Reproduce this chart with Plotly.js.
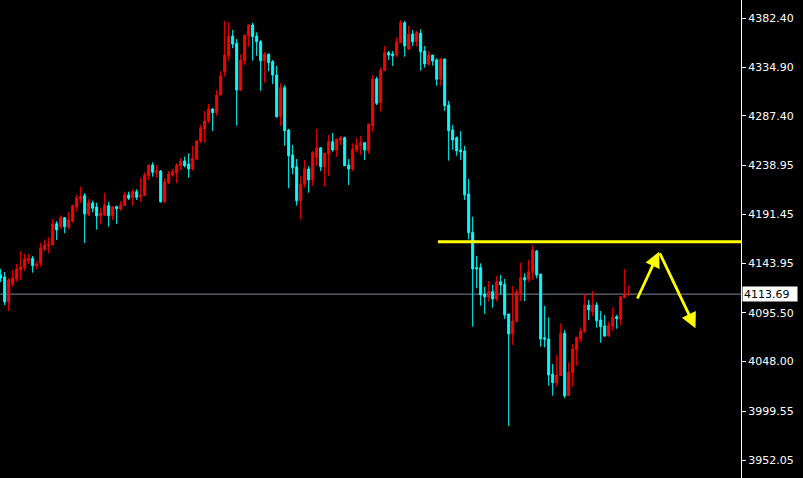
<!DOCTYPE html>
<html>
<head>
<meta charset="utf-8">
<script src="https://cdn.plot.ly/plotly-3.0.1.min.js"></script>
<style>html,body{margin:0;padding:0;background:#000;}#chart{width:803px;height:478px;}</style>
</head>
<body>
<div id="chart"></div>
<script>
// Candle values (bar index = position in arrays)
const openP = [4132.4,4130.4,4106.1,4124.1,4128.5,4137.2,4139.5,4146.3,4148.6,4141.4,
4143.7,4157.4,4160.6,4161.6,4182.3,4179.4,4188.2,4179.1,4185.0,4198.9,
4206.4,4209.6,4191.5,4202.5,4198.6,4190.1,4190.8,4199.9,4190.1,4198.9,
4196.6,4199.9,4210.3,4207.6,4213.5,4208.3,4209.6,4229.1,4239.5,4232.4,
4233.6,4203.7,4222.2,4229.8,4232.0,4238.5,4243.4,4240.5,4235.6,4245.0,
4262.9,4274.6,4282.3,4294.0,4290.4,4307.7,4330.4,4345.9,4365.1,4358.0,
4312.5,4341.1,4365.4,4375.9,4365.1,4359.6,4341.1,4347.6,4340.1,4327.1,
4286.5,4314.8,4273.6,4249.2,4237.8,4204.7,4221.0,4235.6,4224.9,4246.6,
4256.3,4237.8,4249.9,4262.2,4254.1,4263.8,4266.1,4239.5,4235.6,4254.1,
4258.3,4261.2,4253.4,4277.8,4323.3,4300.2,4331.3,4348.9,4347.6,4346.6,
4358.6,4378.1,4352.5,4367.1,4359.6,4367.8,4350.5,4337.9,4346.6,4341.8,
4323.0,4342.7,4297.9,4273.6,4266.1,4254.1,4253.1,4211.2,4173.9,4139.5,
4139.5,4113.8,4110.6,4116.1,4109.0,4125.8,4123.3,4094.4,4074.9,4086.9,
4114.5,4129.7,4128.2,4135.0,4155.7,4133.3,4071.3,4070.0,4035.9,4027.4,
4034.3,4075.6,4014.8,4037.2,4059.3,4070.0,4077.1,4103.1,4096.6,4103.1,
4088.5,4082.7,4072.9,4083.0,4091.7,4089.5,4110.2,4112.9];
const highP = [4138.2,4135.3,4129.4,4137.2,4143.1,4155.7,4152.8,4152.8,4150.9,4146.0,
4163.8,4167.1,4169.1,4186.9,4184.7,4190.5,4188.2,4193.7,4200.8,4210.3,
4218.4,4212.2,4206.4,4204.7,4202.8,4197.9,4212.2,4203.7,4198.9,4199.9,
4204.4,4213.5,4213.5,4215.8,4215.8,4227.1,4232.4,4239.5,4242.1,4239.5,
4234.6,4226.5,4233.6,4235.6,4241.1,4246.0,4247.6,4250.9,4258.0,4263.8,
4278.5,4292.1,4298.9,4294.7,4312.5,4331.0,4379.7,4378.5,4371.0,4362.2,
4347.3,4366.1,4376.5,4378.1,4368.7,4361.2,4349.8,4347.6,4341.8,4335.9,
4319.7,4317.4,4274.6,4259.0,4245.3,4228.8,4244.4,4238.5,4253.1,4274.6,
4256.3,4251.5,4268.7,4270.9,4264.8,4268.0,4267.1,4245.3,4260.6,4265.5,
4268.0,4261.2,4279.4,4327.2,4325.5,4334.3,4355.4,4350.5,4350.5,4363.9,
4380.7,4379.7,4374.9,4371.0,4370.3,4371.7,4355.4,4350.5,4346.6,4343.4,
4344.0,4342.7,4301.8,4278.5,4267.1,4272.6,4258.0,4225.9,4189.1,4150.9,
4143.7,4120.9,4126.5,4122.6,4131.4,4132.4,4128.5,4094.4,4121.6,4118.4,
4144.3,4134.0,4147.0,4161.6,4156.7,4133.3,4102.2,4091.1,4045.7,4054.4,
4085.3,4078.8,4047.3,4065.1,4072.3,4081.4,4113.8,4108.0,4116.8,4105.8,
4097.3,4093.4,4086.9,4100.9,4093.4,4111.2,4138.2,4121.9];
const lowP = [4125.5,4103.1,4097.3,4120.9,4125.8,4127.5,4136.2,4143.1,4134.6,4138.2,
4140.4,4155.7,4153.5,4161.6,4166.4,4177.2,4173.0,4176.9,4183.3,4194.4,
4202.2,4163.5,4189.8,4193.4,4176.5,4181.7,4189.8,4179.4,4185.9,4182.0,
4194.7,4199.9,4205.4,4199.9,4205.4,4203.7,4209.6,4224.9,4228.1,4227.1,
4202.8,4202.8,4221.0,4228.1,4221.7,4234.6,4237.2,4227.1,4233.9,4244.4,
4260.9,4261.2,4280.1,4272.6,4287.2,4307.0,4325.5,4340.8,4353.2,4277.8,
4311.6,4336.9,4354.7,4341.1,4345.9,4311.6,4319.7,4331.0,4318.4,4285.6,
4277.5,4258.3,4216.8,4230.4,4199.9,4186.6,4217.4,4212.5,4219.3,4238.8,
4233.6,4218.4,4228.8,4252.4,4247.6,4259.0,4238.8,4220.0,4233.6,4251.5,
4249.2,4244.4,4250.2,4272.0,4297.9,4291.4,4331.3,4341.8,4335.9,4344.4,
4358.6,4345.0,4351.5,4355.4,4354.7,4331.3,4334.3,4336.2,4336.2,4316.7,
4316.7,4292.4,4243.7,4254.1,4248.6,4244.4,4205.4,4167.1,4082.0,4119.4,
4102.4,4094.4,4106.4,4100.5,4106.4,4113.8,4089.5,3985.1,4064.2,4086.9,
4107.0,4107.0,4125.5,4127.5,4129.1,4062.5,4061.9,4024.5,4014.8,4023.5,
4034.3,4012.3,4014.8,4023.5,4044.0,4066.8,4076.1,4088.5,4092.4,4081.0,
4066.4,4072.3,4072.3,4078.1,4080.0,4083.6,4110.2,4112.9];
const closeP = [4129.4,4106.1,4127.5,4129.7,4138.2,4140.1,4147.9,4148.2,4141.4,4142.8,
4158.4,4161.3,4162.5,4182.0,4176.2,4188.2,4179.4,4186.2,4199.9,4207.6,
4208.6,4191.8,4202.8,4197.3,4189.8,4192.7,4200.5,4190.1,4198.9,4196.9,
4200.5,4210.3,4207.1,4213.5,4208.0,4210.3,4229.8,4239.5,4232.4,4233.6,
4203.7,4223.2,4230.7,4233.0,4239.5,4242.7,4238.8,4235.6,4246.0,4262.9,
4275.2,4282.3,4294.0,4290.4,4307.7,4326.2,4346.6,4365.1,4357.3,4312.5,
4341.8,4366.1,4375.9,4364.5,4359.6,4341.1,4347.6,4339.1,4327.1,4286.5,
4314.8,4272.9,4248.6,4236.9,4204.7,4221.0,4235.6,4224.9,4251.5,4256.3,
4237.8,4250.9,4262.2,4254.1,4264.8,4266.1,4238.8,4235.6,4255.1,4259.0,
4261.2,4254.1,4279.4,4323.3,4299.6,4332.0,4348.9,4346.6,4345.9,4359.0,
4378.1,4355.4,4367.1,4359.6,4368.4,4349.8,4337.9,4346.6,4340.8,4323.0,
4342.7,4297.3,4272.9,4263.8,4253.4,4252.4,4210.3,4173.5,4138.2,4138.2,
4112.9,4111.2,4116.1,4109.0,4125.8,4122.6,4093.4,4074.9,4087.5,4116.1,
4129.7,4127.5,4135.6,4156.7,4132.4,4070.0,4069.7,4034.9,4027.4,4034.9,
4075.6,4014.8,4037.6,4060.3,4071.3,4077.8,4103.1,4098.3,4103.1,4087.8,
4082.0,4072.9,4083.6,4091.1,4089.8,4111.2,4113.8,4113.69];

// Price scale ticks
const tickVals = [4382.40, 4334.90, 4287.40, 4238.95, 4191.45, 4143.95, 4095.50, 4048.00, 3999.55, 3952.05];
const tickText = ["4382.40", "4334.90", "4287.40", "4238.95", "4191.45", "4143.95", "4095.50", "4048.00", "3999.55", "3952.05"];

// Levels and projection
const currentPrice = 4113.69;
const resistanceLevel = 4164.8;
const resistanceStartBar = 109.3;
const projBars = [159.0, 164.6, 173.7];
const projPrices = [4108.0, 4155.0, 4080.4];

const barIdx = openP.map((_, i) => i);

const trace = {
  type: 'candlestick',
  x: barIdx, open: openP, high: highP, low: lowP, close: closeP,
  increasing: {line: {color: '#ff0000', width: 1}, fillcolor: '#ff0000'},
  decreasing: {line: {color: '#00ffff', width: 1}, fillcolor: '#00ffff'},
  whiskerwidth: 0,
  hoverinfo: 'skip'
};

const annotations = [
  {x: 1, xref: 'paper', y: currentPrice, yref: 'y', xanchor: 'left', yanchor: 'middle',
   text: currentPrice.toFixed(2), showarrow: false, bgcolor: '#ffffff',
   width: 52, height: 12, align: 'left',
   font: {family: 'DejaVu Sans', size: 11, color: '#000000'}, borderpad: 1, xshift: 1},
  {x: projBars[1], y: projPrices[1], ax: projBars[0], ay: projPrices[0], xref: 'x', yref: 'y', axref: 'x', ayref: 'y',
   showarrow: true, arrowhead: 2, arrowsize: 1.1, arrowwidth: 2.8, arrowcolor: '#ffff00', text: ''},
  {x: projBars[2], y: projPrices[2], ax: projBars[1], ay: projPrices[1], xref: 'x', yref: 'y', axref: 'x', ayref: 'y',
   showarrow: true, arrowhead: 2, arrowsize: 1.1, arrowwidth: 2.8, arrowcolor: '#ffff00', text: ''}
];

const layout = {
  width: 803, height: 478,
  margin: {l: 0, r: 62, t: 0, b: 0, pad: 0},
  paper_bgcolor: '#000000', plot_bgcolor: '#000000',
  showlegend: false,
  font: {family: 'DejaVu Sans', size: 11, color: '#ffffff'},
  xaxis: {range: [-0.1675, 185.08], visible: false, rangeslider: {visible: false}, fixedrange: true},
  yaxis: {range: [3934.6, 4400.2], side: 'right', showgrid: false, zeroline: false,
          showline: true, linecolor: '#ffffff', linewidth: 1, mirror: false,
          ticks: 'outside', ticklen: 4, tickcolor: '#ffffff', tickwidth: 1,
          tickvals: tickVals, ticktext: tickText,
          tickfont: {family: 'DejaVu Sans', size: 11, color: '#ffffff'}, fixedrange: true},
  shapes: [
    {type: 'line', xref: 'paper', x0: 0, x1: 1, yref: 'y', y0: currentPrice, y1: currentPrice,
     line: {color: '#7a8896', width: 1}, layer: 'below'},
    {type: 'line', xref: 'x', x0: resistanceStartBar, x1: 186, yref: 'y', y0: resistanceLevel, y1: resistanceLevel,
     line: {color: '#ffff00', width: 3}, layer: 'above'}
  ],
  annotations: annotations
};

Plotly.newPlot('chart', [trace], layout, {staticPlot: true, displayModeBar: false});
</script>
</body>
</html>
